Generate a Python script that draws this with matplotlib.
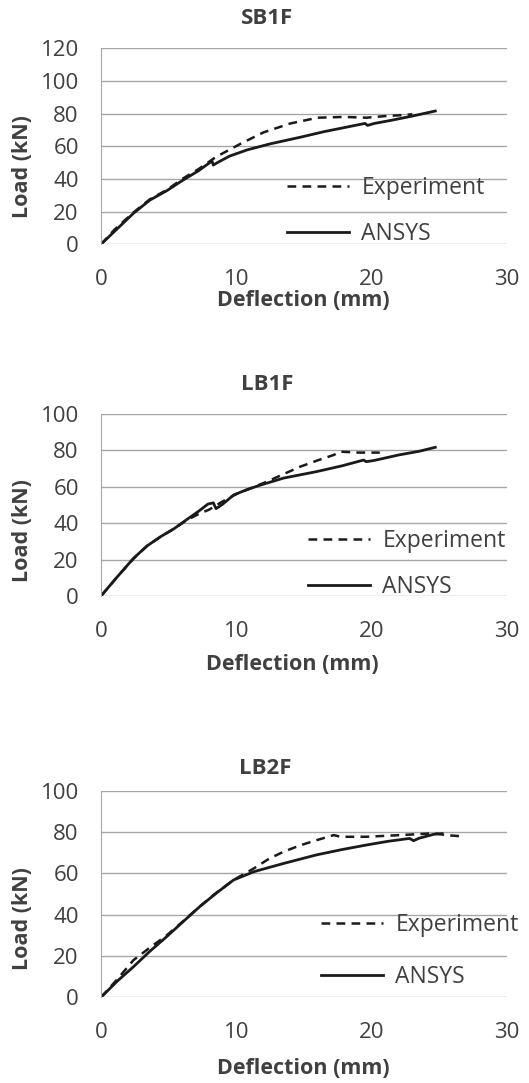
import matplotlib
matplotlib.use("Agg")
import matplotlib.pyplot as plt

# Load-deflection data
sb1f_ansys_x = [0, 1.2, 2.4, 3.6, 4.9, 6.0, 7.2, 8.2, 8.3, 8.6, 9.5, 10.8, 12.5, 14.7, 16.5, 18.0, 19.5, 19.7, 20.2, 21.5, 23.0, 24.7]
sb1f_ansys_y = [0, 9.5, 19, 27, 33, 39, 45, 51, 48.5, 50, 54, 57.8, 61.5, 65.5, 69, 71.5, 74, 72.8, 74, 76, 78.5, 81.6]
sb1f_exp_x = [0, 1.0, 2.4, 3.6, 4.9, 6.0, 7.2, 8.5, 10.3, 12.0, 14.0, 16.0, 18.0, 19.6, 21.0, 22.1, 23.0]
sb1f_exp_y = [0, 9, 19.5, 27.5, 33.5, 40, 46, 53.5, 61.5, 68.5, 74, 77.5, 78, 77.5, 78.5, 79, 79.6]

lb1f_ansys_x = [0, 1.2, 2.4, 3.4, 4.4, 5.4, 6.3, 7.2, 7.9, 8.3, 8.5, 9.0, 9.8, 10.8, 11.8, 13.5, 15.9, 17.8, 19.4, 19.6, 20.2, 22.0, 23.5, 24.7]
lb1f_ansys_y = [0, 10.5, 20.7, 27.5, 32.6, 37, 41.8, 46.5, 50.5, 51.2, 48, 50.5, 55.5, 58.5, 61, 64.8, 68.3, 71.5, 74.7, 73.8, 74.5, 77.5, 79.5, 81.7]
lb1f_exp_x = [0, 1.2, 2.4, 3.4, 4.4, 5.4, 6.3, 7.2, 8.0, 9.0, 10.0, 11.0, 12.25, 13.5, 14.7, 16.0, 17.2, 17.7, 19.0, 20.6]
lb1f_exp_y = [0, 10.5, 20.5, 27.5, 32.5, 37, 41.5, 45, 47.5, 52, 56, 59, 62.8, 67, 71, 74.5, 77.5, 79.3, 78.8, 78.8]

lb2f_ansys_x = [0, 1.2, 2.4, 3.6, 4.86, 6.1, 7.3, 8.5, 9.8, 11.3, 12.5, 13.5, 15.9, 17.8, 19.6, 21.2, 22.8, 23.1, 23.5, 24.6, 25.2]
lb2f_ansys_y = [0, 7.8, 14.8, 22.2, 29.4, 36.8, 43.9, 50.3, 56.8, 60.8, 63, 64.8, 68.9, 71.5, 73.7, 75.5, 76.9, 75.8, 77, 78.9, 79.2]
lb2f_exp_x = [0, 1.16, 2.4, 3.6, 4.86, 6.1, 7.3, 8.5, 9.8, 11.3, 12.4, 13.5, 14.7, 15.9, 17.2, 17.7, 19.6, 22.1, 24.6, 25.5, 26.5]
lb2f_exp_y = [0, 8.4, 18, 24, 30, 37, 44, 50.5, 56.8, 62.4, 67, 70.5, 73.5, 76, 78.5, 77.7, 77.7, 78.5, 79.4, 78.5, 78]

titles = ["SB1F", "LB1F", "LB2F"]
x_ticks = [0, 10, 20, 30]
y_ticks = [[0, 20, 40, 60, 80, 100, 120], [0, 20, 40, 60, 80, 100], [0, 20, 40, 60, 80, 100]]

W, H = 529, 1083
plt.rcParams['font.family'] = ['Open Sans', 'DejaVu Sans']
fig = plt.figure(figsize=(W / 100, H / 100), dpi=100)


def fx(px):
    return px / W


def fy(py):
    return 1 - py / H


# pixel boxes: (top, bottom) of plot area, title y, xlabel (x, y), ylabel y, legend (x, y_mid)
layout = [
    dict(top=48.3, bot=244.3, title=(267, 18), xlab=(303, 300), ylab=167, leg=(287, 211), sp=1.0),
    dict(top=414, bot=596, title=(267, 385), xlab=(292, 665), ylab=531, leg=(308, 564), sp=1.0),
    dict(top=790.7, bot=997.3, title=(265, 768), xlab=(303, 1068), ylab=919, leg=(321, 951), sp=1.2),
]
series = [
    (sb1f_exp_x, sb1f_exp_y, sb1f_ansys_x, sb1f_ansys_y),
    (lb1f_exp_x, lb1f_exp_y, lb1f_ansys_x, lb1f_ansys_y),
    (lb2f_exp_x, lb2f_exp_y, lb2f_ansys_x, lb2f_ansys_y),
]

grid_c = '#a6a6a6'
text_c = '#404040'
line_c = '#1a1a1a'

for i, lay in enumerate(layout):
    ax = fig.add_axes([fx(101), fy(lay['bot']), fx(406), (lay['bot'] - lay['top']) / H])
    ex, ey, ansx, ansy = series[i]
    ax.plot(ex, ey, color=line_c, lw=1.8, linestyle=(0, (3.5, 2.5)), label='Experiment')
    ax.plot(ansx, ansy, color=line_c, lw=2.0, label='ANSYS')
    ax.set_xlim(0, 30)
    ax.set_ylim(0, y_ticks[i][-1])
    ax.set_xticks(x_ticks)
    ax.set_yticks(y_ticks[i])
    ax.yaxis.grid(True, color=grid_c, lw=1.0)
    ax.set_axisbelow(True)
    for s in ['top', 'right', 'bottom']:
        ax.spines[s].set_visible(False)
    ax.spines['left'].set_color(grid_c)
    ax.tick_params(length=0, labelsize=16, colors=text_c)
    ax.tick_params(axis='x', pad=18)
    ax.tick_params(axis='y', pad=16)

    fig.text(fx(lay['title'][0]), fy(lay['title'][1]), titles[i], ha='center', va='center',
             fontsize=16, fontweight='bold', color=text_c)
    fig.text(fx(lay['xlab'][0]), fy(lay['xlab'][1]), 'Deflection (mm)', ha='center', va='center',
             fontsize=15.5, fontweight='bold', color=text_c)
    fig.text(fx(23), fy(lay['ylab']), 'Load (kN)', ha='center', va='center', rotation=90,
             fontsize=15.5, fontweight='bold', color=text_c)

    ax.legend(loc='center left', bbox_to_anchor=(fx(lay['leg'][0]), fy(lay['leg'][1])),
              bbox_transform=fig.transFigure, frameon=False, fontsize=16.5, labelcolor=text_c,
              handlelength=2.7, handletextpad=0.55, labelspacing=lay['sp'], borderpad=0,
              borderaxespad=0)

fig.savefig('out.png', dpi=100)
